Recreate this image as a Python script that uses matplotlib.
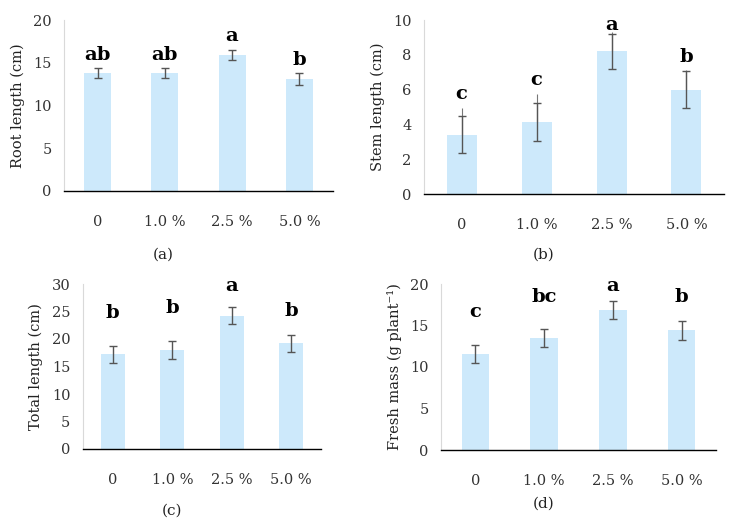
import numpy as np
import matplotlib.pyplot as plt

plt.rcParams['font.family'] = ['DejaVu Serif']

categories = ['0', '1.0 %', '2.5 %', '5.0 %']

root_len = [13.8, 13.8, 15.9, 13.1]
root_err = [0.6, 0.6, 0.6, 0.65]
root_letters = ['ab', 'ab', 'a', 'b']
root_letter_y = [15.3, 15.3, 17.6, 14.7]

stem_len = [3.4, 4.15, 8.2, 6.0]
stem_err = [1.07, 1.1, 1.0, 1.05]
stem_err_ext = [1.55, 1.6, 1.1, 1.1]
stem_letters = ['c', 'c', 'a', 'b']
stem_letter_y = [5.45, 6.25, 9.45, 7.6]

total_len = [17.2, 18.0, 24.2, 19.2]
total_err = [1.55, 1.6, 1.55, 1.55]
total_letters = ['b', 'b', 'a', 'b']
total_letter_y = [23.9, 24.7, 28.7, 24.1]

fresh_mass = [11.6, 13.5, 16.9, 14.45]
fresh_err = [1.1, 1.1, 1.1, 1.15]
fresh_letters = ['c', 'bc', 'a', 'b']
fresh_letter_y = [16.0, 17.8, 19.1, 17.8]

W, H = 734, 532
fig = plt.figure(figsize=(W / 100, H / 100), dpi=100)

bar_color = '#cde9fb'
err_color = '#555555'


def make_ax(left, right, top, bottom):
    return fig.add_axes([left / W, 1 - bottom / H, (right - left) / W, (bottom - top) / H])


def panel(ax, vals, errs, letters, letter_y, ymax, ystep, ylabel, caption, cap_xy, ext=None):
    x = np.arange(len(categories))
    ax.bar(x, vals, width=0.4, color=bar_color, zorder=1)
    if ext is not None:
        ax.errorbar(x, vals, yerr=[np.zeros(len(ext)), ext], fmt='none',
                    ecolor='#777777', elinewidth=0.8, capsize=0, zorder=2)
    ax.errorbar(x, vals, yerr=errs, fmt='none', ecolor=err_color,
                elinewidth=1, capsize=3, capthick=1, zorder=3)
    for xi, lab, ly in zip(x, letters, letter_y):
        ax.text(xi, ly, lab, ha='center', va='baseline', fontsize=14,
                fontweight='bold', color='black')
    ax.set_xlim(-0.5, 3.5)
    ax.set_ylim(0, ymax)
    ax.set_yticks(np.arange(0, ymax + 0.01, ystep))
    ax.set_xticks(x)
    ax.set_xticklabels(categories)
    ax.tick_params(axis='both', length=0, labelsize=10.5, colors='#333333')
    ax.tick_params(axis='x', pad=17)
    ax.tick_params(axis='y', pad=9)
    for s in ['top', 'right']:
        ax.spines[s].set_visible(False)
    ax.spines['left'].set_color('#d9d9d9')
    ax.spines['left'].set_linewidth(0.8)
    ax.spines['bottom'].set_color('black')
    ax.spines['bottom'].set_linewidth(1)
    ax.set_ylabel(ylabel, fontsize=10.5, color='#222222', labelpad=6)
    fig.text(cap_xy[0] / W, 1 - cap_xy[1] / H, caption, ha='center', va='center',
             fontsize=11, color='#222222')


ax_a = make_ax(64, 333, 20, 191)
panel(ax_a, root_len, root_err, root_letters, root_letter_y, 20, 5,
      'Root length (cm)', '(a)', (163, 255))

ax_b = make_ax(424, 724, 20, 194)
panel(ax_b, stem_len, stem_err, stem_letters, stem_letter_y, 10, 2,
      'Stem length (cm)', '(b)', (544, 255), ext=stem_err_ext)

ax_c = make_ax(83, 321, 284, 449)
panel(ax_c, total_len, total_err, total_letters, total_letter_y, 30, 5,
      'Total length (cm)', '(c)', (172, 511))

ax_d = make_ax(441, 716, 284, 450)
panel(ax_d, fresh_mass, fresh_err, fresh_letters, fresh_letter_y, 20, 5,
      'Fresh mass (g plant\u207b\u00b9)', '(d)', (544, 504))

fig.savefig('out.png', dpi=100)
